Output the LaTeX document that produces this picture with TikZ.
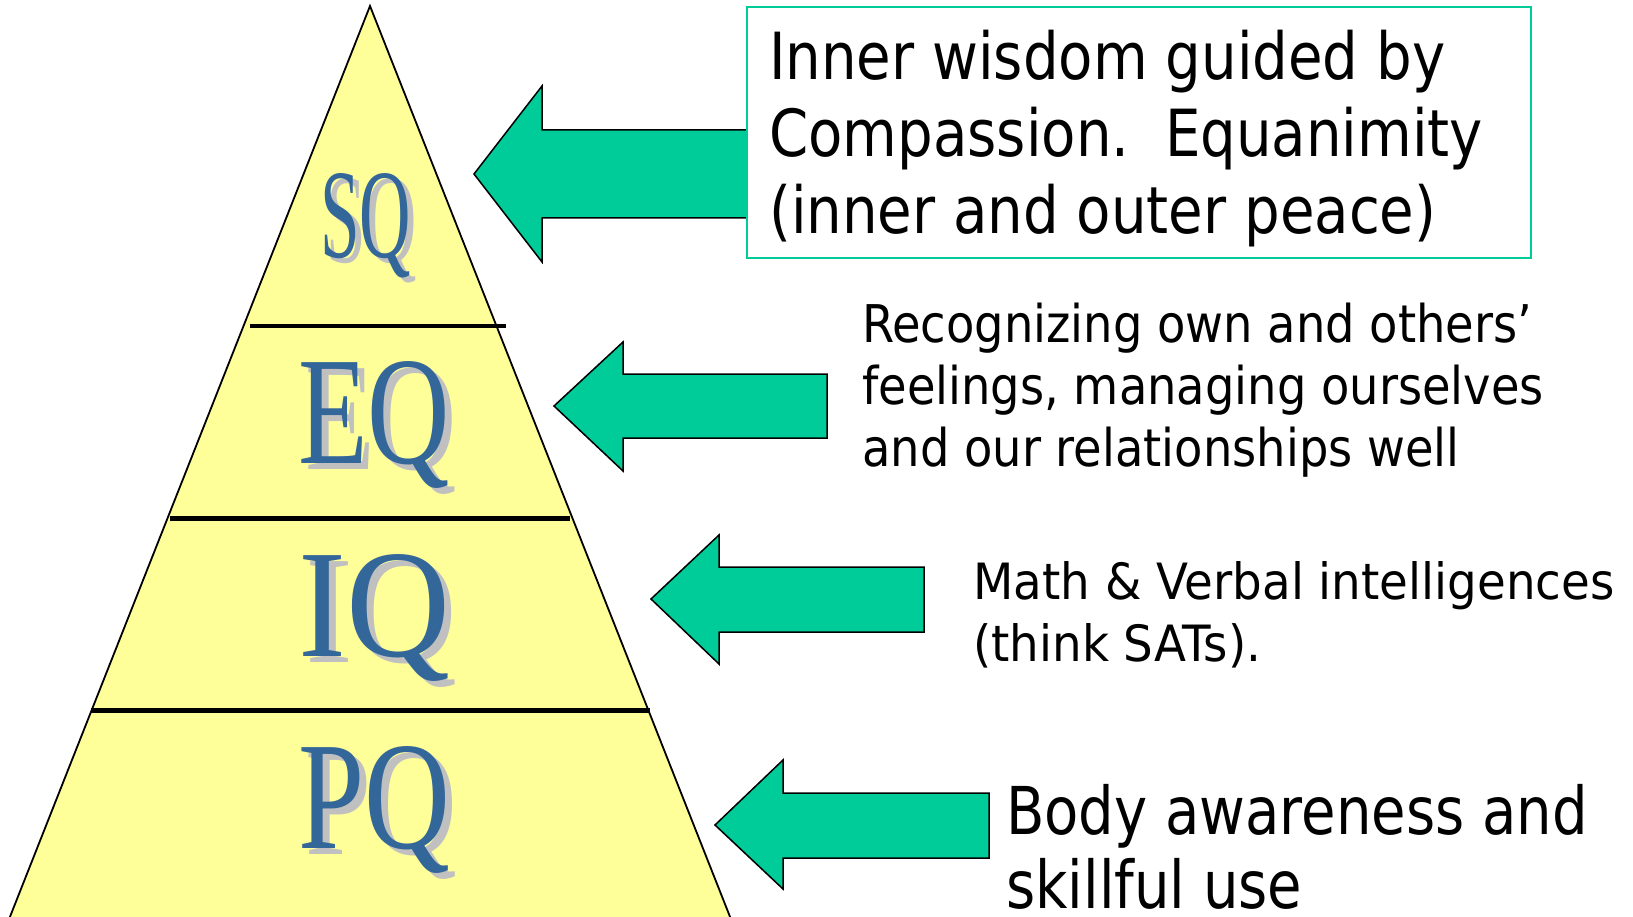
\documentclass[tikz,border=0pt]{standalone}
\usepackage{fontspec}
\usepackage{graphicx}
\newfontfamily\serifQ{Liberation Serif}
\newfontfamily\tboxfont[FakeStretch=0.864]{DejaVu Sans}
\newfontfamily\ttwofont[FakeStretch=0.892]{DejaVu Sans}
\newfontfamily\tthreefont[FakeStretch=0.935]{DejaVu Sans}
\newfontfamily\tfourfont[FakeStretch=0.849]{DejaVu Sans}
\definecolor{pyr}{HTML}{FFFF99}
\definecolor{arr}{HTML}{00CC99}
\definecolor{qblue}{HTML}{336699}
\definecolor{qshadow}{HTML}{C0C0C0}
\tikzset{
  layerline/.style={line width=4.5pt},
  blockarrow/.style={fill=arr, draw=black, line width=1.5pt, line join=miter},
  qtxt/.style={inner sep=0pt, anchor=base west, text=qblue, font=\serifQ\fontsize{100}{100}\selectfont},
  qshd/.style={qtxt, text=qshadow},
  desc/.style={inner sep=0pt, anchor=base west, text=black},
  boxtxt/.style={desc, font=\tboxfont\fontsize{65}{76}\selectfont},
  eqtxt/.style={desc, font=\ttwofont\fontsize{52}{62}\selectfont},
  iqtxt/.style={desc, font=\tthreefont\fontsize{50}{62}\selectfont},
  pqtxt/.style={desc, font=\tfourfont\fontsize{66}{74}\selectfont},
}
\begin{document}
\begin{tikzpicture}[x=1pt,y=-1pt]
\useasboundingbox (0,0) rectangle (1633,917);
% pyramid
\coordinate (apex) at (370,6);
\coordinate (bl) at (2,937);
\coordinate (br) at (738,937);
\draw[fill=pyr, line width=1.8pt, line join=miter] (apex) -- (bl) -- (br) -- cycle;
% layer separators
\coordinate (l1a) at (250,326);   \coordinate (l1b) at (506,326);
\coordinate (l2a) at (170,518.5); \coordinate (l2b) at (570,518.5);
\coordinate (l3a) at (91,710.5);  \coordinate (l3b) at (650,710.5);
\draw[layerline] (l1a) -- (l1b);
\draw[layerline] (l2a) -- (l2b);
\draw[layerline] (l3a) -- (l3b);
% letters
\node[qshd] (sqs) at (326,263) {\resizebox{91pt}{84pt}{SQ}};
\node[qtxt] (sq) at (320,258) {\resizebox{91pt}{84pt}{SQ}};
\node[qshd] (eqs) at (305,469) {\resizebox{152pt}{102pt}{EQ}};
\node[qtxt] (eq) at (298,463) {\resizebox{152pt}{102pt}{EQ}};
\node[qshd] (iqs) at (305,662) {\resizebox{152pt}{102pt}{IQ}};
\node[qtxt] (iq) at (298,656) {\resizebox{152pt}{102pt}{IQ}};
\node[qshd] (pqs) at (305,854) {\resizebox{152pt}{102pt}{PQ}};
\node[qtxt] (pq) at (298,848) {\resizebox{152pt}{102pt}{PQ}};
% block arrows
\draw[blockarrow] (474,174) -- (542,86) -- (542,130) -- (760,130) -- (760,218) -- (542,218) -- (542,262) -- cycle;
\draw[blockarrow] (554,406) -- (623,342) -- (623,374) -- (827,374) -- (827,438) -- (623,438) -- (623,471) -- cycle;
\draw[blockarrow] (651,599) -- (719,535) -- (719,567) -- (924,567) -- (924,632) -- (719,632) -- (719,664) -- cycle;
\draw[blockarrow] (715,825) -- (783,760) -- (783,793) -- (989,793) -- (989,858) -- (783,858) -- (783,889) -- cycle;
% SQ box
\node[draw=arr, fill=white, line width=2pt, minimum width=784pt, minimum height=250.5pt, anchor=north west, inner sep=0pt] (box) at (746,6.5) {};
\node[boxtxt] (b1) at (769,80) {Inner wisdom guided by};
\node[boxtxt] (b2) at (769,157) {Compassion.\ \ Equanimity};
\node[boxtxt] (b3) at (769,234) {(inner and outer peace)};
% EQ text
\node[eqtxt] (e1) at (862,342) {Recognizing own and others’};
\node[eqtxt] (e2) at (862,404) {feelings, managing ourselves};
\node[eqtxt] (e3) at (862,466) {and our relationships well};
% IQ text
\node[iqtxt] (i1) at (973,599) {Math \& Verbal intelligences};
\node[iqtxt] (i2) at (973,661) {(think SATs).};
% PQ text
\node[pqtxt] (p1) at (1006,834) {Body awareness and};
\node[pqtxt] (p2) at (1006,908) {skillful use};
\end{tikzpicture}
\end{document}
